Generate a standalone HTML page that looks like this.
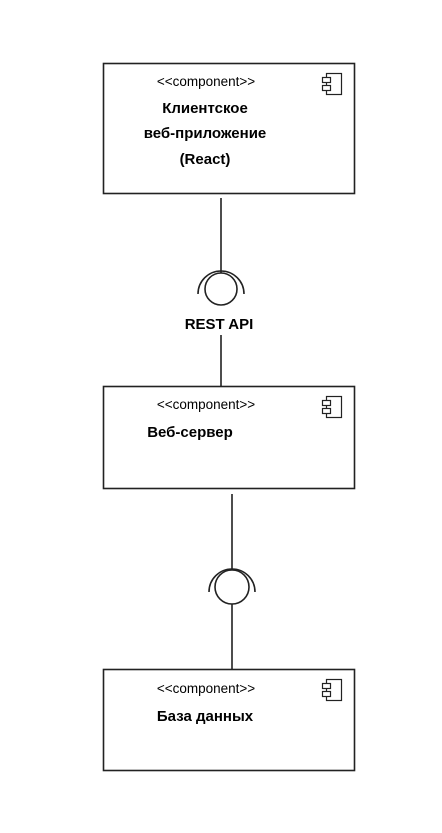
<!DOCTYPE html>
<html><head><meta charset="utf-8"><style>
body{margin:0;background:#fff;width:442px;height:828px;overflow:hidden}
text{font-family:"Liberation Sans",sans-serif;fill:#000}
.s{font-size:13.5px}
.b{font-size:15px;font-weight:bold}
</style></head><body>
<svg width="442" height="828" xmlns="http://www.w3.org/2000/svg">
<g fill="none" stroke="#222" stroke-width="1.6">
<rect x="103.5" y="63.5" width="251" height="130"/>
<rect x="103.5" y="386.5" width="251" height="102"/>
<rect x="103.5" y="669.5" width="251" height="101"/>
<line x1="221" y1="198" x2="221" y2="273"/>
<circle cx="221" cy="289" r="16"/>
<path d="M198 294 A23 23 0 1 1 244 294"/>
<line x1="221" y1="335" x2="221" y2="386"/>
<line x1="232" y1="494" x2="232" y2="570"/>
<circle cx="232" cy="587" r="17"/>
<path d="M209 592 A23 23 0 1 1 255 592"/>
<line x1="232" y1="604" x2="232" y2="669"/>
</g>
<g fill="#fff" stroke="#222" stroke-width="1.2">
<rect x="326.5" y="73.5" width="15" height="21"/><rect x="322.5" y="77.5" width="8" height="5"/><rect x="322.5" y="85.5" width="8" height="5"/>
<rect x="326.5" y="396.5" width="15" height="21"/><rect x="322.5" y="400.5" width="8" height="5"/><rect x="322.5" y="408.5" width="8" height="5"/>
<rect x="326.5" y="679.5" width="15" height="21"/><rect x="322.5" y="683.5" width="8" height="5"/><rect x="322.5" y="691.5" width="8" height="5"/>
</g>
<text class="s" x="206" y="86" text-anchor="middle">&lt;&lt;component&gt;&gt;</text>
<text class="b" x="205" y="113" text-anchor="middle">Клиентское</text>
<text class="b" x="205" y="138" text-anchor="middle">веб-приложение</text>
<text class="b" x="205" y="164" text-anchor="middle">(React)</text>
<text class="b" x="219" y="329" text-anchor="middle">REST API</text>
<text class="s" x="206" y="409" text-anchor="middle">&lt;&lt;component&gt;&gt;</text>
<text class="b" x="190" y="437" text-anchor="middle">Веб-сервер</text>
<text class="s" x="206" y="693" text-anchor="middle">&lt;&lt;component&gt;&gt;</text>
<text class="b" x="205" y="721" text-anchor="middle">База данных</text>
</svg>
</body></html>
